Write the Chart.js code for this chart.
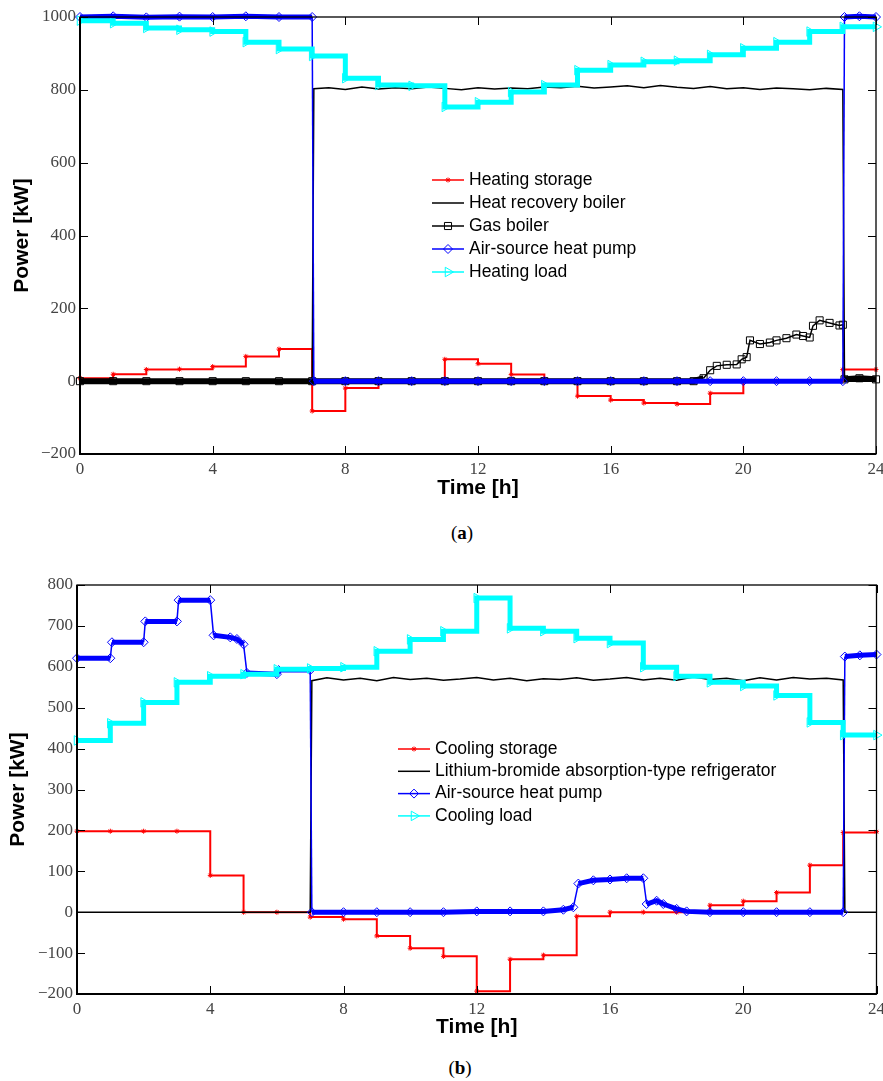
<!DOCTYPE html>
<html>
<head>
<meta charset="utf-8">
<script src="https://cdn.jsdelivr.net/npm/chart.js@4.4.1/dist/chart.umd.min.js"></script>
<style>
  body { margin: 0; background: #fff; }
  #page { position: relative; width: 883px; height: 1081px; }
  canvas { position: absolute; left: 0; }
  #heating { top: 0; }
  #cooling { top: 545px; }
  .caption { position: absolute; font-family: "Liberation Serif", serif; font-size: 19px; transform: translate(-50%, -50%); }
  .caption b { font-weight: bold; }
</style>
</head>
<body>
<div id="page">
  <canvas id="heating" width="883" height="505"></canvas>
  <canvas id="cooling" width="883" height="500"></canvas>
  <div class="caption" style="left:462px; top:533px;">(<b>a</b>)</div>
  <div class="caption" style="left:460px; top:1068px;">(<b>b</b>)</div>
</div>
<script>
// ---- data ----
var hours = [0, 1, 2, 3, 4, 5, 6, 7, 8, 9, 10, 11, 12, 13, 14, 15, 16, 17, 18, 19, 20, 21, 22, 23, 24];
var xTicks = [0, 4, 8, 12, 16, 20, 24];

// (a) heating, value of each hour (last entry repeats hour 23)
var heatingStorage = [8, 19, 32, 33, 40, 68, 88, -82, -19, 0, 0, 60, 48, 18, 0, -41, -52, -60, -63, -33, 0, 0, 0, 32, 32];
var heatingLoad = [990, 983, 970, 965, 960, 931, 912, 893, 832, 813, 811, 753, 766, 794, 813, 854, 868, 877, 880, 896, 914, 931, 960, 973, 973];

var pumpTimeA = [0, 1, 2, 3, 4, 5, 6, 7, 7.05, 8, 9, 10, 11, 12, 13, 14, 15, 16, 17, 18, 19, 20, 21, 22, 23, 23.05, 23.5, 24];
var heatPumpHeat = [1000, 1002, 999, 1001, 1000, 1002, 1000, 1000, 0, 0, 0, 0, 0, 0, 0, 0, 0, 0, 0, 0, 0, 0, 0, 0, 0, 1000, 1002, 1000];

var boilerTime = [0, 7, 7.05, 7.5, 8, 8.5, 9, 9.5, 10, 10.5, 11, 11.5, 12, 12.5, 13, 13.5, 14, 14.5, 15, 15.5, 16, 16.5, 17, 17.5, 18, 18.5, 19, 19.5, 20, 20.5, 21, 21.5, 22, 22.5, 23, 23.05, 24];
var heatRecovery = [0, 0, 803, 806, 801, 808, 802, 806, 803, 808, 804, 800, 806, 802, 805, 803, 808, 806, 810, 805, 808, 811, 806, 812, 807, 804, 809, 803, 806, 801, 805, 803, 800, 804, 801, 0, 0];

var gasTime = [0, 1, 2, 3, 4, 5, 6, 7, 8, 9, 10, 11, 12, 13, 14, 15, 16, 17, 18, 18.5, 18.8, 19.0, 19.2, 19.5, 19.8, 19.95, 20.1, 20.2, 20.5, 20.8, 21.0, 21.3, 21.6, 21.8, 22.0, 22.1, 22.3, 22.6, 22.9, 23.0, 23.05, 23.5, 24];
var gasBoiler = [0, 0, 0, 0, 0, 0, 0, 0, 0, 0, 0, 0, 0, 0, 0, 0, 0, 0, 0, 0, 8, 30, 42, 45, 46, 60, 66, 112, 102, 106, 112, 118, 128, 124, 120, 152, 167, 160, 153, 155, 5, 8, 5];

// (b) cooling
var coolingStorage = [198, 198, 198, 198, 90, 0, 0, -12, -17, -58, -88, -108, -193, -115, -105, -10, 0, 0, 0, 17, 27, 48, 115, 195, 197];
var coolingLoad = [420, 462, 513, 562, 577, 582, 594, 596, 599, 638, 667, 687, 768, 694, 687, 670, 658, 599, 577, 562, 553, 530, 464, 433, 433];
var libr = [0, 0, 566, 573, 568, 572, 566, 574, 569, 572, 567, 570, 574, 568, 572, 566, 571, 569, 573, 567, 570, 574, 568, 572, 567, 575, 569, 572, 566, 573, 568, 574, 570, 572, 568, 0, 0];

var pumpTimeB = [0, 1, 1.05, 2, 2.05, 3, 3.05, 4, 4.1, 4.6, 4.8, 5.0, 5.1, 6, 6.05, 7, 7.05, 8, 9, 10, 11, 12, 13, 14, 14.6, 14.9, 15.05, 15.5, 16, 16.5, 17, 17.1, 17.4, 17.6, 18, 18.3, 19, 20, 21, 22, 23, 23.05, 23.5, 24];
var heatPumpCool = [621, 621, 660, 660, 711, 711, 763, 763, 677, 672, 668, 655, 585, 582, 592, 592, 0, 0, 0, 0, 0, 2, 2, 2, 6, 12, 70, 78, 80, 83, 83, 20, 28, 20, 8, 2, 0, 0, 0, 0, 0, 625, 628, 630];

function xy(xs, ys) {
  return xs.map(function (t, i) { return { x: t, y: ys[i] }; });
}

var serif = '"Liberation Serif", "Times New Roman", serif';
var sans = '"Liberation Sans", Arial, sans-serif';
var clear = 'rgba(0,0,0,0)';

// inward ticks on all four sides plus the box
var frameTicks = {
  id: 'frameTicks',
  afterDatasetsDraw: function (chart) {
    var ctx = chart.ctx, a = chart.chartArea, x = chart.scales.x, y = chart.scales.y, len = 8;
    ctx.save();
    ctx.strokeStyle = '#000';
    ctx.lineWidth = 1;
    ctx.beginPath();
    x.ticks.forEach(function (t) {
      var p = Math.round(x.getPixelForValue(t.value)) + 0.5;
      ctx.moveTo(p, a.bottom); ctx.lineTo(p, a.bottom - len);
      ctx.moveTo(p, a.top); ctx.lineTo(p, a.top + len);
    });
    y.ticks.forEach(function (t) {
      var p = Math.round(y.getPixelForValue(t.value)) + 0.5;
      ctx.moveTo(a.left, p); ctx.lineTo(a.left + len, p);
      ctx.moveTo(a.right, p); ctx.lineTo(a.right - len, p);
    });
    ctx.stroke();
    ctx.lineWidth = 1.3;
    ctx.strokeRect(a.left, a.top, a.right - a.left, a.bottom - a.top);
    ctx.lineWidth = 2;
    ctx.beginPath();
    ctx.moveTo(a.left, a.top); ctx.lineTo(a.left, a.bottom); ctx.lineTo(a.right, a.bottom);
    ctx.stroke();
    ctx.restore();
  }
};

// legend drawn inside the plot area
var innerLegend = {
  id: 'innerLegend',
  afterDraw: function (chart, args, o) {
    var ctx = chart.ctx;
    ctx.save();
    ctx.font = o.font;
    ctx.textBaseline = 'middle';
    chart.data.datasets.forEach(function (ds, i) {
      var yy = o.y + i * o.row;
      ctx.strokeStyle = ds.borderColor;
      ctx.lineWidth = 1.5;
      ctx.beginPath(); ctx.moveTo(o.x, yy); ctx.lineTo(o.x + o.len, yy); ctx.stroke();
      if (ds.pointRadius > 0 && Chart.helpers && Chart.helpers.drawPoint) {
        ctx.fillStyle = clear;
        ctx.lineWidth = ds.pointBorderWidth;
        Chart.helpers.drawPoint(ctx, {
          pointStyle: ds.pointStyle, radius: ds.pointRadius,
          rotation: ds.pointRotation || 0, borderWidth: ds.pointBorderWidth
        }, o.x + o.len / 2, yy);
      }
      ctx.fillStyle = '#000';
      ctx.fillText(ds.label, o.x + o.len + o.gap, yy);
    });
    ctx.restore();
  }
};

function makeOptions(cfg) {
  return {
    responsive: false,
    animation: false,
    events: [],
    layout: { padding: { left: 0, right: cfg.right, top: cfg.top, bottom: 0 } },
    plugins: {
      legend: { display: false },
      tooltip: { enabled: false },
      innerLegend: cfg.legend
    },
    scales: {
      x: {
        type: 'linear', min: 0, max: 24,
        afterBuildTicks: function (s) { s.ticks = xTicks.map(function (v) { return { value: v }; }); },
        grid: { display: false, drawTicks: false },
        border: { display: false },
        ticks: { color: '#444', font: { family: serif, size: 17 }, padding: 5, maxRotation: 0 },
        title: { display: true, text: 'Time [h]', color: '#000', font: { family: sans, size: 21, weight: 'bold' }, padding: { top: 0, bottom: cfg.xTitlePad } },
        afterFit: function (s) { s.height = cfg.xHeight; s.paddingLeft = 0; s.paddingRight = 0; }
      },
      y: {
        min: cfg.ymin, max: cfg.ymax,
        ticks: {
          stepSize: cfg.ystep, color: '#444', font: { family: serif, size: 17 }, padding: 4,
          callback: function (v) { return String(v).replace('-', '\u2212'); }
        },
        grid: { display: false, drawTicks: false },
        border: { display: false },
        title: { display: true, text: 'Power [kW]', color: '#000', font: { family: sans, size: 21, weight: 'bold' }, padding: { top: cfg.yTitlePad, bottom: 0 } },
        afterFit: function (s) { s.width = cfg.yWidth; s.paddingTop = 0; s.paddingBottom = 0; }
      }
    }
  };
}

function series(label, data, color, extra) {
  var ds = {
    label: label, data: data, borderColor: color, borderWidth: 1.5,
    pointRadius: 0, pointBorderWidth: 1, pointBorderColor: color, pointBackgroundColor: clear,
    fill: false, tension: 0, clip: 8
  };
  for (var k in extra) ds[k] = extra[k];
  return ds;
}

// dense marker bands: thick where the series is flat, thin on the jumps
function band(width, limit, nearZero) {
  return {
    borderWidth: function (c) {
      var a = c.p0.parsed.y, b = c.p1.parsed.y;
      if (nearZero) return Math.abs(a) < limit && Math.abs(b) < limit ? width : 1.5;
      return Math.abs(a - b) < limit ? width : 1.5;
    }
  };
}

new Chart(document.getElementById('heating'), {
  type: 'line',
  data: {
    datasets: [
      series('Heating storage', xy(hours, heatingStorage), '#ff0000', { stepped: true, borderWidth: 2, pointStyle: 'star', pointRadius: 2.5, order: 5 }),
      series('Heat recovery boiler', xy(boilerTime, heatRecovery), '#000000', { order: 4 }),
      series('Gas boiler', xy(gasTime, gasBoiler), '#000000', { pointStyle: 'rect', pointRadius: 5, order: 3, segment: band(6, 20, true) }),
      series('Air-source heat pump', xy(pumpTimeA, heatPumpHeat), '#0000ff', { pointStyle: 'rectRot', pointRadius: 4.5, order: 2, segment: band(5, 30, false) }),
      series('Heating load', xy(hours, heatingLoad), '#00ffff', { stepped: true, borderWidth: 5, pointStyle: 'triangle', pointRotation: 90, pointRadius: 5.5, order: 1 })
    ]
  },
  options: makeOptions({
    right: 7, top: 17, xHeight: 51, yWidth: 80, xTitlePad: 4, yTitlePad: 10,
    ymin: -200, ymax: 1000, ystep: 200,
    legend: { x: 432, y: 180, row: 23, len: 32, gap: 5, font: '17.5px ' + sans }
  }),
  plugins: [frameTicks, innerLegend]
});

new Chart(document.getElementById('cooling'), {
  type: 'line',
  data: {
    datasets: [
      series('Cooling storage', xy(hours, coolingStorage), '#ff0000', { stepped: true, borderWidth: 2, pointStyle: 'star', pointRadius: 2.5, order: 4 }),
      series('Lithium-bromide absorption-type refrigerator', xy(boilerTime, libr), '#000000', { order: 3 }),
      series('Air-source heat pump', xy(pumpTimeB, heatPumpCool), '#0000ff', { pointStyle: 'rectRot', pointRadius: 4.5, order: 2, segment: band(5, 30, false) }),
      series('Cooling load', xy(hours, coolingLoad), '#00ffff', { stepped: true, borderWidth: 5, pointStyle: 'triangle', pointRotation: 90, pointRadius: 5.5, order: 1 })
    ]
  },
  options: makeOptions({
    right: 5, top: 40, xHeight: 51, yWidth: 77, xTitlePad: 5, yTitlePad: 6,
    ymin: -200, ymax: 800, ystep: 100,
    legend: { x: 398, y: 204, row: 22.3, len: 32, gap: 5, font: '17.5px ' + sans }
  }),
  plugins: [frameTicks, innerLegend]
});
</script>
</body>
</html>
